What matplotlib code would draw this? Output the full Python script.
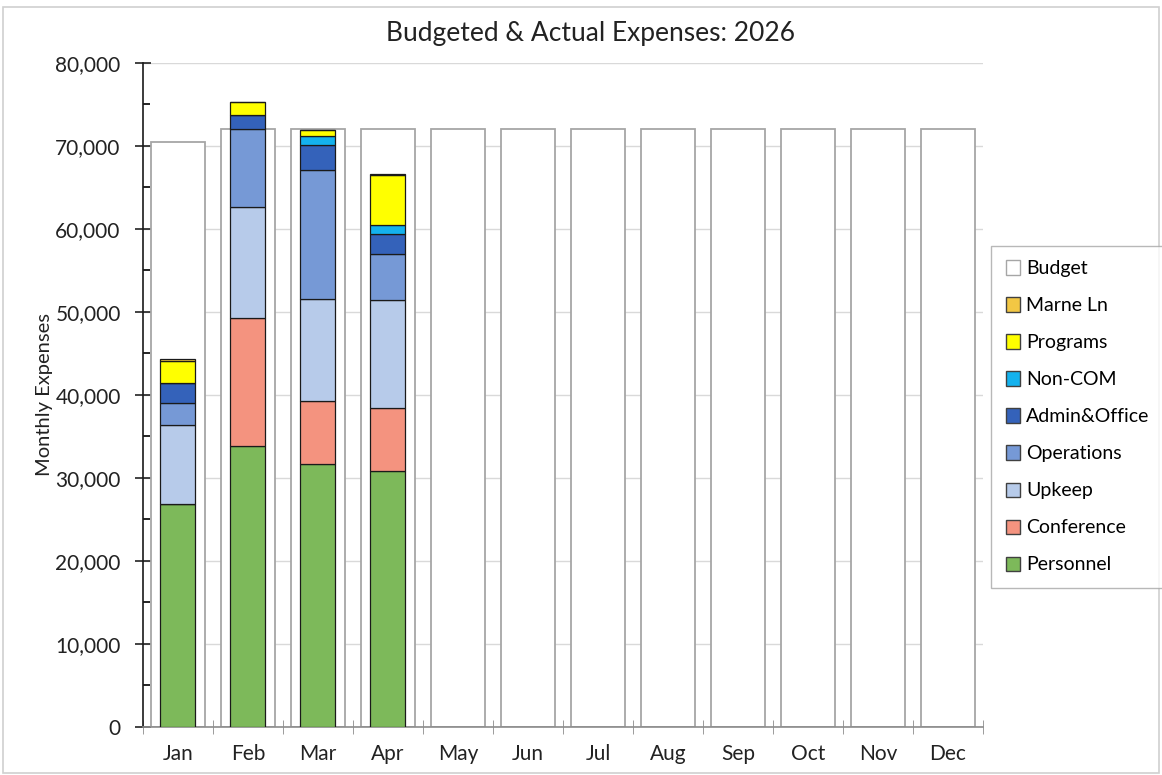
import matplotlib.pyplot as plt
from matplotlib.patches import Rectangle, Patch
from matplotlib.ticker import FuncFormatter, MultipleLocator, FixedLocator
import numpy as np

plt.rcParams['font.family'] = ['Lato', 'DejaVu Sans']

months = ['Jan', 'Feb', 'Mar', 'Apr', 'May', 'Jun', 'Jul', 'Aug', 'Sep', 'Oct', 'Nov', 'Dec']
budget = [70400, 72000, 72000, 72000, 72000, 72000, 72000, 72000, 72000, 72000, 72000, 72000]

# actuals, Jan-Apr (stack order bottom -> top)
personnel = [26830, 33890, 31690, 30840]
conference = [0, 15420, 7620, 7630]
upkeep = [9560, 13260, 12260, 12980]
operations = [2610, 9440, 15460, 5540]
admin_office = [2410, 1640, 3090, 2410]
non_com = [0, 0, 1080, 1000]
programs = [2720, 1610, 730, 6100]
marne_ln = [170, 0, 0, 150]

series = [
    ('Personnel', personnel, '#7DB95A'),
    ('Conference', conference, '#F4937F'),
    ('Upkeep', upkeep, '#B7CBEA'),
    ('Operations', operations, '#7699D6'),
    ('Admin&Office', admin_office, '#3462BA'),
    ('Non-COM', non_com, '#14B2EE'),
    ('Programs', programs, '#FFFF00'),
    ('Marne Ln', marne_ln, '#F2C744'),
]

fig = plt.figure(figsize=(11.62, 7.75), dpi=100)
fig.patches.append(Rectangle((0.003, 0.003), 0.994, 0.988, transform=fig.transFigure,
                             fill=False, edgecolor='#D0D0D0', linewidth=1.2))
ax = fig.add_axes([0.123, 0.062, 0.723, 0.857])

x = np.arange(len(months))
ax.bar(x, budget, width=0.77, color='white', edgecolor='#A6A6A6', linewidth=1.3, zorder=2)

xa = np.arange(len(personnel))
bottom = np.zeros(len(personnel))
for name, vals, col in series:
    v = np.array(vals, dtype=float)
    ax.bar(xa, v, width=0.5, bottom=bottom, color=col, edgecolor='#1A1A1A', linewidth=0.9, zorder=3)
    bottom += v

ax.set_ylim(0, 80000)
ax.set_xlim(-0.5, 11.5)
ax.yaxis.set_major_locator(MultipleLocator(10000))
ax.yaxis.set_minor_locator(MultipleLocator(5000))
ax.yaxis.set_major_formatter(FuncFormatter(lambda v, p: f'{int(v):,}'))
ax.grid(axis='y', color='#D9D9D9', linewidth=1.0, zorder=0)
ax.set_axisbelow(True)

ax.set_xticks(x)
ax.set_xticklabels(months)
ax.xaxis.set_minor_locator(FixedLocator(np.arange(-0.5, 12, 1)))
ax.tick_params(axis='x', which='major', length=0, labelsize=15, pad=12, colors='#222222')
ax.tick_params(axis='x', which='minor', length=10, direction='inout', color='#8C8C8C')
ax.tick_params(axis='y', which='major', length=12, direction='inout', labelsize=15, pad=10,
               colors='#222222', width=1.2)
ax.tick_params(axis='y', which='minor', length=5, direction='in', width=1.2)

for s in ['top', 'right']:
    ax.spines[s].set_visible(False)
ax.spines['left'].set_color('#1A1A1A')
ax.spines['left'].set_linewidth(1.2)
ax.spines['bottom'].set_color('#8C8C8C')
ax.spines['bottom'].set_linewidth(1.2)

ax.set_ylabel('Monthly Expenses', fontsize=14.5, labelpad=2, color='#222222')
fig.text(0.508, 0.957, 'Budgeted & Actual Expenses: 2026', ha='center', va='center',
         fontsize=19, color='#222222')

handles = [Patch(facecolor='white', edgecolor='#A6A6A6', label='Budget')]
for name, vals, col in reversed(series):
    handles.append(Patch(facecolor=col, edgecolor='#404040', label=name))
leg = fig.legend(handles=handles, loc='upper left', bbox_to_anchor=(0.853, 0.683),
                 fontsize=14, frameon=True, fancybox=False, edgecolor='#A6A6A6',
                 handlelength=0.75, handleheight=0.75, handletextpad=0.3,
                 labelspacing=1.03, borderpad=0.75, borderaxespad=0)
leg.get_frame().set_linewidth(1.0)

fig.savefig('out.png', dpi=100)
